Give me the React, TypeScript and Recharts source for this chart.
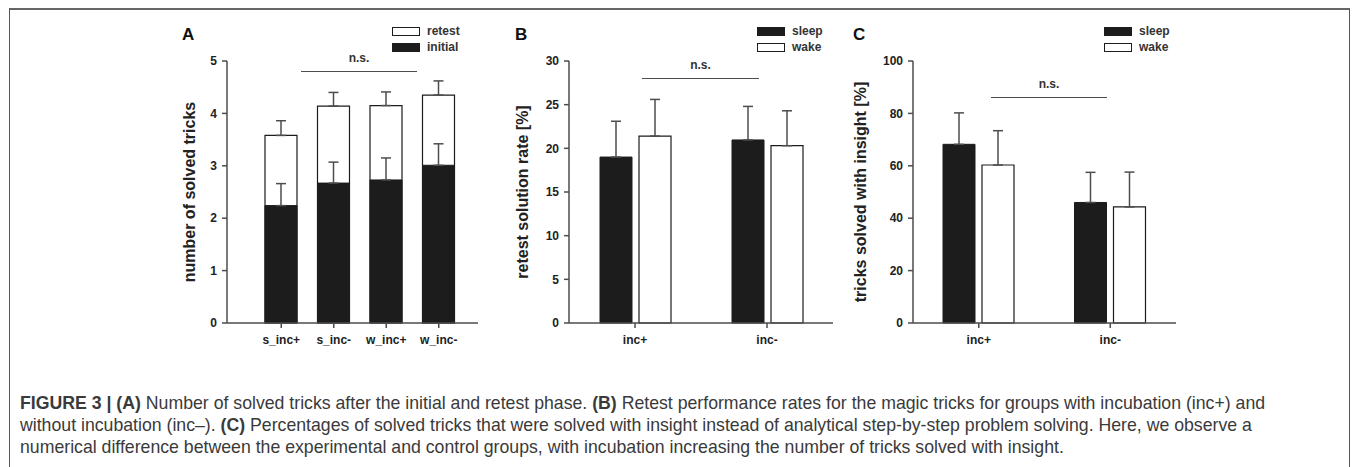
import { Bar, BarChart, ErrorBar, XAxis, YAxis } from 'recharts';
import type { ReactNode } from 'react';

// Panel A: solved tricks (initial phase and cumulative after retest)
const groupsA = ['s_inc+', 's_inc-', 'w_inc+', 'w_inc-'];
const initialMean = [2.24, 2.67, 2.73, 3.01];
const initialErr = [0.42, 0.4, 0.42, 0.41];
const retestTotal = [3.58, 4.14, 4.15, 4.35];
const retestErr = [0.28, 0.26, 0.26, 0.27];

// Panels B and C: sleep vs wake per incubation condition
const incubation = ['inc+', 'inc-'];
const rateSleep = [19.0, 20.96];
const rateSleepErr = [4.1, 3.84];
const rateWake = [21.4, 20.3];
const rateWakeErr = [4.2, 4.0];

const insightSleep = [68.2, 46.0];
const insightSleepErr = [12.0, 11.5];
const insightWake = [60.3, 44.3];
const insightWakeErr = [13.1, 13.3];

const ticksA = [0, 1, 2, 3, 4, 5];
const ticksB = [0, 5, 10, 15, 20, 25, 30];
const ticksC = [0, 20, 40, 60, 80, 100];

const dataA = groupsA.map((group, i) => ({
  group,
  initial: initialMean[i],
  initialErr: [0, initialErr[i]],
  retest: retestTotal[i],
  retestErr: [0, retestErr[i]],
}));

const dataB = incubation.map((group, i) => ({
  group,
  sleep: rateSleep[i],
  sleepErr: [0, rateSleepErr[i]],
  wake: rateWake[i],
  wakeErr: [0, rateWakeErr[i]],
}));

const dataC = incubation.map((group, i) => ({
  group,
  sleep: insightSleep[i],
  sleepErr: [0, insightSleepErr[i]],
  wake: insightWake[i],
  wakeErr: [0, insightWakeErr[i]],
}));

const FONT = '"Liberation Sans", Arial, Helvetica, sans-serif';
const AXIS = '#4d4d4d';
const INK = '#1c1c1c';
const tickStyle = { fontSize: 12, fontWeight: 700, fill: '#222', fontFamily: FONT };

type PanelProps = {
  left: number;
  width: number;
  yWidth: number;
  labelOffset: number;
  yLabel: string;
  data: object[];
  domain: [number, number];
  ticks: number[];
  barGap: number;
  padding: { left: number; right: number };
  children: ReactNode;
};

function Panel(p: PanelProps) {
  return (
    <div style={{ position: 'absolute', left: p.left, top: 40 }}>
      <BarChart
        width={p.width}
        height={323}
        data={p.data}
        margin={{ top: 21, right: 0, bottom: 0, left: 0 }}
        barSize={32}
        barGap={p.barGap}
      >
        <XAxis
          dataKey="group"
          height={40}
          tickSize={5}
          tickMargin={7}
          padding={p.padding}
          axisLine={{ stroke: AXIS, strokeWidth: 1.5 }}
          tickLine={{ stroke: AXIS, strokeWidth: 1.5 }}
          tick={tickStyle}
          interval={0}
        />
        <YAxis
          width={p.yWidth}
          domain={p.domain}
          ticks={p.ticks}
          interval={0}
          tickSize={5}
          tickMargin={5}
          axisLine={{ stroke: AXIS, strokeWidth: 1.5 }}
          tickLine={{ stroke: AXIS, strokeWidth: 1.5 }}
          tick={tickStyle}
          label={{
            value: p.yLabel,
            angle: -90,
            position: 'insideLeft',
            offset: p.labelOffset,
            style: { textAnchor: 'middle', fontSize: 16, fontWeight: 700, fill: '#222', fontFamily: FONT },
          }}
        />
        {p.children}
      </BarChart>
    </div>
  );
}

function LegendItem({ x, y, label, filled }: { x: number; y: number; label: string; filled: boolean }) {
  return (
    <div style={{ position: 'absolute', left: x, top: y, display: 'flex', alignItems: 'center', height: 9 }}>
      <div
        style={{
          width: 26,
          height: 7,
          background: filled ? INK : '#fff',
          border: `1px solid ${INK}`,
        }}
      />
      <span style={{ marginLeft: 7, fontSize: 12, fontWeight: 700, color: '#333', lineHeight: '9px' }}>{label}</span>
    </div>
  );
}

function NotSignificant({ x1, x2, y }: { x1: number; x2: number; y: number }) {
  return (
    <>
      <div
        style={{
          position: 'absolute',
          left: x1,
          top: y - 19,
          width: x2 - x1,
          textAlign: 'center',
          fontSize: 12,
          fontWeight: 700,
          color: '#333',
          lineHeight: '12px',
        }}
      >
        n.s.
      </div>
      <div style={{ position: 'absolute', left: x1, top: y, width: x2 - x1, height: 0, borderTop: `1.5px solid ${AXIS}` }} />
    </>
  );
}

const panelLetter = (x: number, text: string) => (
  <div style={{ position: 'absolute', left: x, top: 26, fontSize: 17, fontWeight: 700, lineHeight: '17px', color: '#111' }}>
    {text}
  </div>
);

const errStyle = { width: 5, stroke: AXIS, strokeWidth: 1.5, direction: 'y' as const };

export default function App() {
  return (
    <div
      style={{
        position: 'absolute',
        left: 0,
        top: 0,
        width: 1358,
        height: 467,
        background: '#fff',
        fontFamily: FONT,
        overflow: 'hidden',
      }}
    >
      <div
        style={{
          position: 'absolute',
          left: 9,
          top: 8,
          width: 1339,
          height: 480,
          borderTop: '2px solid #666',
          borderLeft: '1px solid #555',
          borderRight: '1px solid #555',
        }}
      />

      {panelLetter(182, 'A')}
      {panelLetter(515, 'B')}
      {panelLetter(853, 'C')}

      <Panel
        left={130}
        width={348}
        yWidth={97}
        labelOffset={59}
        yLabel="number of solved tricks"
        data={dataA}
        domain={[0, 5]}
        ticks={ticksA}
        barGap={-32}
        padding={{ left: 28, right: 13 }}
      >
        <Bar dataKey="retest" fill="#fff" stroke={INK} strokeWidth={1.2} isAnimationActive={false}>
          <ErrorBar dataKey="retestErr" {...errStyle} />
        </Bar>
        <Bar dataKey="initial" fill={INK} stroke={INK} strokeWidth={1} isAnimationActive={false}>
          <ErrorBar dataKey="initialErr" {...errStyle} />
        </Bar>
      </Panel>

      <Panel
        left={480}
        width={353}
        yWidth={89}
        labelOffset={42}
        yLabel="retest solution rate [%]"
        data={dataB}
        domain={[0, 30]}
        ticks={ticksB}
        barGap={7}
        padding={{ left: 0, right: 0 }}
      >
        <Bar dataKey="sleep" fill={INK} stroke={INK} strokeWidth={1} isAnimationActive={false}>
          <ErrorBar dataKey="sleepErr" {...errStyle} />
        </Bar>
        <Bar dataKey="wake" fill="#fff" stroke={INK} strokeWidth={1.2} isAnimationActive={false}>
          <ErrorBar dataKey="wakeErr" {...errStyle} />
        </Bar>
      </Panel>

      <Panel
        left={825}
        width={351}
        yWidth={88}
        labelOffset={35}
        yLabel="tricks solved with insight [%]"
        data={dataC}
        domain={[0, 100]}
        ticks={ticksC}
        barGap={7}
        padding={{ left: 0, right: 0 }}
      >
        <Bar dataKey="sleep" fill={INK} stroke={INK} strokeWidth={1} isAnimationActive={false}>
          <ErrorBar dataKey="sleepErr" {...errStyle} />
        </Bar>
        <Bar dataKey="wake" fill="#fff" stroke={INK} strokeWidth={1.2} isAnimationActive={false}>
          <ErrorBar dataKey="wakeErr" {...errStyle} />
        </Bar>
      </Panel>

      <LegendItem x={392} y={27} label="retest" filled={false} />
      <LegendItem x={392} y={43} label="initial" filled={true} />
      <LegendItem x={757} y={27} label="sleep" filled={true} />
      <LegendItem x={757} y={43} label="wake" filled={false} />
      <LegendItem x={1104} y={27} label="sleep" filled={true} />
      <LegendItem x={1104} y={43} label="wake" filled={false} />

      <NotSignificant x1={301} x2={417} y={71} />
      <NotSignificant x1={642} x2={759} y={78} />
      <NotSignificant x1={991} x2={1107} y={97} />

      <div style={{ position: 'absolute', left: 20, top: 392, fontSize: 17.7, lineHeight: '22px', color: '#3a3a3a', whiteSpace: 'nowrap' }}>
        <div>
          <b>FIGURE 3 | (A)</b> Number of solved tricks after the initial and retest phase. <b>(B)</b> Retest performance rates for the magic tricks for groups with incubation (inc+) and
        </div>
        <div>
          without incubation (inc–). <b>(C)</b> Percentages of solved tricks that were solved with insight instead of analytical step-by-step problem solving. Here, we observe a
        </div>
        <div>numerical difference between the experimental and control groups, with incubation increasing the number of tricks solved with insight.</div>
      </div>
    </div>
  );
}
